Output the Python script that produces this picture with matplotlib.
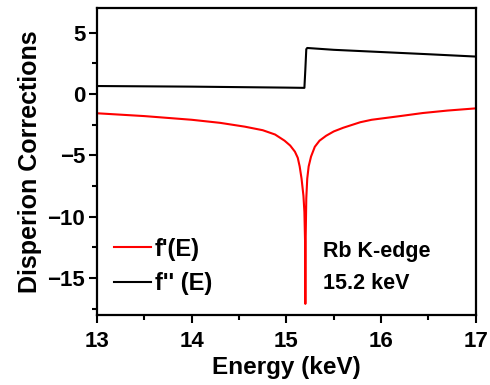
import matplotlib
matplotlib.use("Agg")
import matplotlib.pyplot as plt
from matplotlib.ticker import MultipleLocator

plt.rcParams['font.family'] = ['Liberation Sans', 'DejaVu Sans']
plt.rcParams['font.weight'] = 'bold'

# f'(E)
energy_fp = [13.0, 13.5, 14.0, 14.3, 14.56, 14.75, 14.88, 14.98, 15.04, 15.09,
             15.12, 15.14, 15.16, 15.18, 15.19, 15.197, 15.2, 15.203, 15.21,
             15.22, 15.235, 15.26, 15.30, 15.35, 15.42, 15.5, 15.6, 15.78,
             15.9, 16.2, 16.44, 16.7, 17.0]
f_prime = [-1.57, -1.8, -2.1, -2.35, -2.66, -2.95, -3.3, -3.8, -4.2, -4.7,
           -5.2, -5.9, -6.9, -8.3, -9.6, -12.0, -17.1, -12.0, -8.5,
           -6.9, -5.9, -5.1, -4.3, -3.8, -3.4, -3.05, -2.75, -2.3,
           -2.1, -1.8, -1.55, -1.35, -1.17]

# f''(E)
energy_fpp = [13.0, 14.0, 15.0, 15.19, 15.2, 15.21, 15.22, 15.5, 16.0, 16.5, 17.0]
f_dprime = [0.65, 0.6, 0.52, 0.5, 2.0, 3.65, 3.75, 3.6, 3.42, 3.24, 3.05]

fig = plt.figure(figsize=(4.9, 3.85), dpi=100)
ax = fig.add_axes([0.198, 0.182, 0.773, 0.797])

ax.plot(energy_fp, f_prime, color='red', lw=1.5, label="f'(E)")
ax.plot(energy_fpp, f_dprime, color='black', lw=1.5, label="f'' (E)")

ax.set_xlim(13, 17)
ax.set_ylim(-18, 7)
ax.xaxis.set_major_locator(MultipleLocator(1))
ax.xaxis.set_minor_locator(MultipleLocator(0.5))
ax.yaxis.set_major_locator(MultipleLocator(5))
ax.yaxis.set_minor_locator(MultipleLocator(2.5))
ax.tick_params(which='both', direction='out', width=1.5, labelsize=16)
ax.tick_params(axis='x', pad=6)
ax.tick_params(axis='y', pad=3)
ax.tick_params(which='major', length=5.5)
ax.tick_params(which='minor', length=3.5)
for lab in ax.get_xticklabels() + ax.get_yticklabels():
    lab.set_fontweight('bold')
for s in ax.spines.values():
    s.set_linewidth(1.6)

ax.set_xlabel('Energy (keV)', fontsize=17.5, fontweight='bold', labelpad=3)
ax.set_ylabel('Disperion Corrections', fontsize=18, fontweight='bold', labelpad=4)

ax.text(15.385, -12.85, 'Rb K-edge', fontsize=15.5, fontweight='bold', va='center')
ax.text(15.385, -15.4, '15.2 keV', fontsize=15.5, fontweight='bold', va='center')

ax.legend(loc='lower left', bbox_to_anchor=(0.0, 0.01), frameon=False,
          prop={'size': 17, 'weight': 'bold'}, handlelength=1.6,
          handletextpad=0.15, labelspacing=0.5, borderaxespad=0.3)

fig.savefig('out.png', dpi=100)
